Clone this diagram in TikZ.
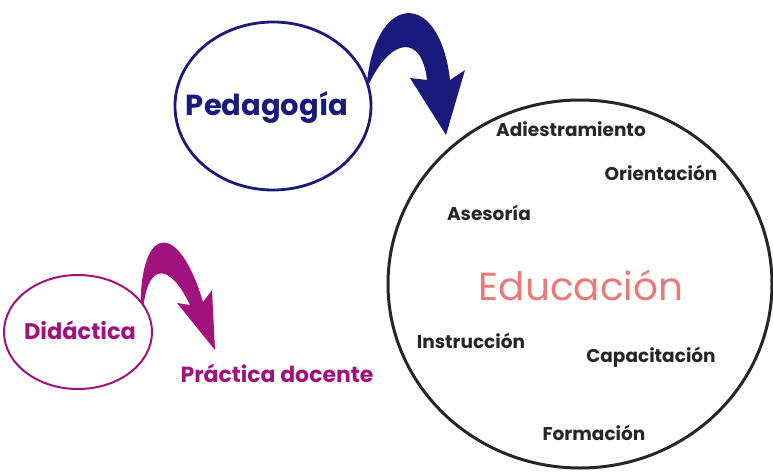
\documentclass[tikz,border=0pt]{standalone}
\usepackage{fontspec}
\setmainfont{Poppins}
\usepackage{tikz}
\usetikzlibrary{shapes.geometric}

\definecolor{pedblue}{RGB}{26,26,124}
\definecolor{didpurple}{RGB}{160,18,126}
\definecolor{edusalmon}{RGB}{232,122,122}
\definecolor{wordgray}{RGB}{38,38,38}

\tikzset{
	word/.style={font=\bfseries\fontsize{18.5}{18.5}\selectfont, text=wordgray, inner sep=0pt},
	oval/.style={ellipse, inner sep=0pt},
}

\begin{document}
\begin{tikzpicture}[x=1pt,y=-1pt]
		%%%%% START %%%%%
		\useasboundingbox (0,0) rectangle (773,471);
		
		% Pedagogia
		\node[oval, draw=pedblue, line width=2.8pt, minimum width=196pt, minimum height=168pt] (ped) at (273,106) {};
		\node[text=pedblue, font=\bfseries\fontsize{29}{29}\selectfont] (pedlabel) at (267,107) {Pedagogía};
		
		% Educacion
		\node[oval, draw=black!85, line width=3pt, minimum width=384pt, minimum height=368pt] (edu) at (580,284) {};
		\node[text=edusalmon, font=\fontsize{39}{39}\selectfont] (edulabel) at (581,285) {Educación};
		
		\node[word] (adi) at (571,129) {Adiestramiento};
		\node[word] (ori) at (661,173) {Orientación};
		\node[word] (ase) at (489,213) {Asesoría};
		\node[word] (ins) at (471,341) {Instrucción};
		\node[word] (cap) at (651,357) {Capacitación};
		\node[word] (for) at (594,433) {Formación};
		
		% Didactica
		\node[oval, draw=didpurple, line width=2pt, minimum width=148pt, minimum height=114pt] (did) at (78,332) {};
		\node[text=didpurple, font=\bfseries\fontsize{22.5}{22.5}\selectfont] (didlabel) at (80,330) {Didáctica};
		\node[text=didpurple, font=\bfseries\fontsize{22}{22}\selectfont] (pra) at (277,373) {Práctica docente};
		
		% flechas
		\coordinate (pedtip) at (446,135);
		\fill[pedblue] (ped.16) .. controls (378,-9) and (440,-9) .. (450,80) -- (465,70) -- (pedtip)
			-- (410,78) -- (427,80) .. controls (422,35) and (392,36) .. (ped.13) -- cycle;
		
		\coordinate (didtip) at (215,350);
		\fill[didpurple] (did.27) .. controls (143,222) and (180,224) .. (203,302) -- (212,290) -- (didtip)
			-- (177,303) -- (190,305) .. controls (170,263) and (149,263) .. (did.23) -- cycle;
		%%%%% END %%%%%
\end{tikzpicture}
\end{document}
